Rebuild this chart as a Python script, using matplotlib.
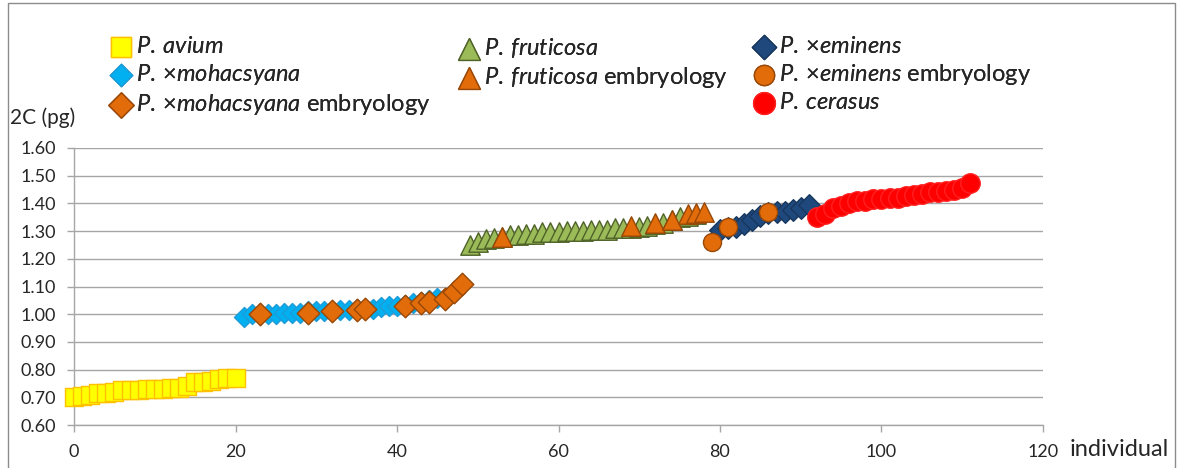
import matplotlib
matplotlib.use("Agg")
import matplotlib.pyplot as plt
from matplotlib.patches import Rectangle

plt.rcParams['font.family'] = ['Lato', 'DejaVu Sans']
plt.rcParams['mathtext.fontset'] = 'custom'
plt.rcParams['mathtext.rm'] = 'Lato'
plt.rcParams['mathtext.it'] = 'Lato:italic'

# ---- data: nuclear DNA content (2C, pg) per individual ----
avium_x = list(range(0, 21))
avium_y = [0.70, 0.705, 0.71, 0.715, 0.715, 0.72, 0.725, 0.725, 0.725, 0.73, 0.73,
           0.73, 0.735, 0.735, 0.74, 0.755, 0.755, 0.76, 0.765, 0.77, 0.77]

moh_x = list(range(21, 46))
moh_y = [0.99, 1.00, 1.00, 1.00, 1.00, 1.005, 1.005, 1.005, 1.01, 1.01, 1.01, 1.01,
         1.015, 1.015, 1.02, 1.02, 1.02, 1.025, 1.03, 1.03, 1.035, 1.04, 1.045, 1.05, 1.06]

moh_emb_x = [23, 29, 32, 35, 36, 41, 43, 44, 46, 47, 48]
moh_emb_y = [1.00, 1.005, 1.01, 1.015, 1.02, 1.03, 1.04, 1.045, 1.055, 1.08, 1.11]

frut_x = list(range(49, 78))
frut_y = [1.25, 1.26, 1.27, 1.275, 1.28, 1.285, 1.285, 1.29, 1.29, 1.295, 1.295, 1.295,
          1.30, 1.30, 1.30, 1.305, 1.305, 1.305, 1.31, 1.31, 1.31, 1.315, 1.32, 1.325,
          1.33, 1.34, 1.35, 1.355, 1.36]

frut_emb_x = [53, 69, 72, 74, 76, 77, 78]
frut_emb_y = [1.28, 1.32, 1.33, 1.34, 1.36, 1.365, 1.37]

emin_x = list(range(80, 92))
emin_y = [1.305, 1.31, 1.315, 1.325, 1.34, 1.355, 1.365, 1.37, 1.37, 1.375, 1.385, 1.395]

emin_emb_x = [79, 81, 86]
emin_emb_y = [1.26, 1.315, 1.37]

cer_x = list(range(92, 112))
cer_y = [1.35, 1.36, 1.385, 1.39, 1.40, 1.41, 1.41, 1.415, 1.415, 1.42, 1.42, 1.425,
         1.43, 1.435, 1.44, 1.44, 1.445, 1.45, 1.455, 1.475]

x_ticks = [0, 20, 40, 60, 80, 100, 120]
y_ticks = [0.60, 0.70, 0.80, 0.90, 1.00, 1.10, 1.20, 1.30, 1.40, 1.50, 1.60]

W, H = 1178, 468
fig = plt.figure(figsize=(W / 100, H / 100), dpi=100)
ax = fig.add_axes([74 / W, 1 - 425 / H, (1043 - 74) / W, (425 - 148) / H])

grid_c = '#a6a6a6'
txt_c = '#262626'

series = [
    (avium_x, avium_y, dict(marker='s', s=12.5 ** 2, c='#FFFF00', edgecolors='#FFC000'),
     r'$\mathit{P.\>avium}$'),
    (moh_x, moh_y, dict(marker='D', s=10.2 ** 2, c='#00B0F0', edgecolors='#1F9BD7'),
     r'$\mathit{P.\>×mohacsyana}$'),
    (moh_emb_x, moh_emb_y, dict(marker='D', s=11.5 ** 2, c='#E36C0A', edgecolors='#984807'),
     r'$\mathit{P.\>×mohacsyana}$ embryology'),
    (frut_x, frut_y, dict(marker='^', s=14 ** 2, c='#9BBB59', edgecolors='#4F6228'),
     r'$\mathit{P.\>fruticosa}$'),
    (frut_emb_x, frut_emb_y, dict(marker='^', s=14 ** 2, c='#E36C0A', edgecolors='#984807'),
     r'$\mathit{P.\>fruticosa}$ embryology'),
    (emin_x, emin_y, dict(marker='D', s=11 ** 2, c='#1F497D', edgecolors='#17375E'),
     r'$\mathit{P.\>×eminens}$'),
    (emin_emb_x, emin_emb_y, dict(marker='o', s=13 ** 2, c='#E36C0A', edgecolors='#984807'),
     r'$\mathit{P.\>×eminens}$ embryology'),
    (cer_x, cer_y, dict(marker='o', s=14 ** 2, c='#FF0000', edgecolors='#FF2020'),
     r'$\mathit{P.\>cerasus}$'),
]

handles = []
for i, (xs, ys, kw, lab) in enumerate(series):
    h = ax.scatter(xs, ys, linewidths=1.0, zorder=3 + i, label=lab, clip_on=False, **kw)
    handles.append(h)

ax.set_xlim(0, 120)
ax.set_ylim(0.6, 1.6)
ax.set_xticks(x_ticks)
ax.set_yticks(y_ticks)
ax.set_yticklabels([f'{v:.2f}' for v in y_ticks])
ax.yaxis.grid(True, color=grid_c, lw=1.0)
ax.set_axisbelow(True)
for side in ('top', 'right'):
    ax.spines[side].set_visible(False)
for side in ('left', 'bottom'):
    ax.spines[side].set_color(grid_c)
    ax.spines[side].set_linewidth(1.0)
ax.tick_params(axis='both', colors=grid_c, labelcolor=txt_c, labelsize=13,
               length=5, width=1.0, direction='out')
ax.tick_params(axis='y', pad=8)
ax.tick_params(axis='x', pad=9)

# axis titles
fig.text(10 / W, 1 - 118 / H, '2C (pg)', fontsize=15, color=txt_c, ha='left', va='center')
fig.text(1070 / W, 1 - 449 / H, 'individual', fontsize=17, color=txt_c, ha='left', va='center')

# legend in three columns above the plot
leg_kw = dict(loc='upper left', frameon=False, fontsize=17, borderpad=0, borderaxespad=0,
              handlelength=1.0, handletextpad=0.15, labelspacing=0.22, scatterpoints=1,
              markerscale=1.12, labelcolor=txt_c)
cols = [((109, 36), [0, 1, 2]), ((457, 36), [3, 4]), ((752, 36), [5, 6, 7])]
for (px, py), idx in cols:
    lg = fig.legend([handles[i] for i in idx], [series[i][3] for i in idx],
                    bbox_to_anchor=(px / W, 1 - py / H), **leg_kw)
    fig.add_artist(lg)

# chart-area border
fig.patches.append(Rectangle((8 / W, -0.05), (1175 - 8) / W, 1.05 - 3 / H,
                             transform=fig.transFigure, fill=False,
                             edgecolor='#8c8c8c', lw=1.0))

fig.savefig('out.png', dpi=100)
